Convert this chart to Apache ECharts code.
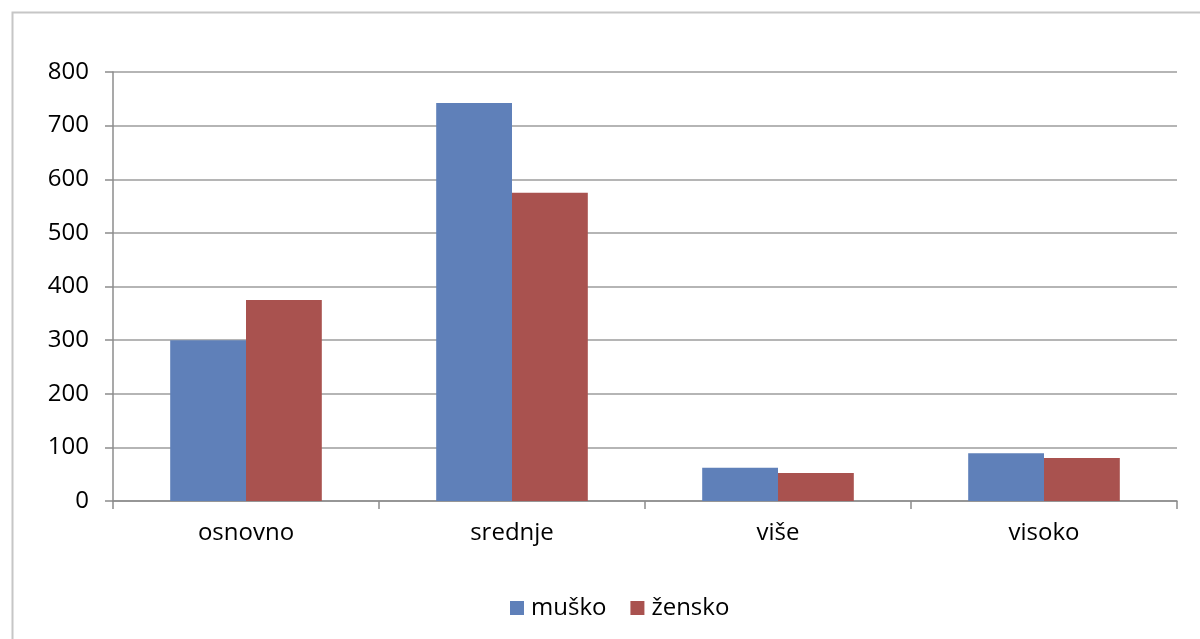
<!DOCTYPE html>
<html>
<head>
<meta charset="utf-8">
<script src="https://cdn.jsdelivr.net/npm/echarts@6/dist/echarts.min.js"></script>
<style>
html,body{margin:0;padding:0;background:#fff;}
#chart{width:1200px;height:639px;}
</style>
</head>
<body>
<div id="chart"></div>
<script>
const categories = ['osnovno', 'srednje', 'više', 'visoko'];
const musko = [300, 742, 62, 89];
const zensko = [375, 575, 52, 80];
const seriesNames = ['muško', 'žensko'];
const yTicks = [0, 100, 200, 300, 400, 500, 600, 700, 800];

const FONT = '"Open Sans", "Liberation Sans", sans-serif';
const chart = echarts.init(document.getElementById('chart'), null, {renderer: 'canvas'});
chart.setOption({
  animation: false,
  backgroundColor: '#fff',
  graphic: [{
    type: 'rect', left: 10, top: 10, silent: true,
    shape: {width: 1220, height: 700},
    style: {fill: 'none', stroke: '#C6C6C6', lineWidth: 2}
  }],
  grid: {left: 113, right: 23, top: 72, bottom: 138, containLabel: false},
  legend: {
    data: seriesNames, top: 591, left: 505,
    icon: 'rect', itemWidth: 14, itemHeight: 14, itemGap: 24, itemStyle: {borderWidth: 0},
    textStyle: {fontFamily: FONT, fontSize: 24, color: '#000', padding: [0, 0, 0, 2]}
  },
  xAxis: {
    type: 'category', data: categories,
    axisLine: {lineStyle: {color: '#8C8C8C', width: 1.5}},
    axisTick: {show: true, length: 8, lineStyle: {color: '#8C8C8C', width: 1.5}},
    axisLabel: {fontFamily: FONT, fontSize: 24, color: '#000', margin: 20}
  },
  yAxis: {
    type: 'value', min: yTicks[0], max: yTicks[yTicks.length - 1], interval: 100,
    axisLine: {show: true, lineStyle: {color: '#8C8C8C', width: 1.5}},
    axisTick: {show: true, length: 8, lineStyle: {color: '#8C8C8C', width: 1.5}},
    axisLabel: {fontFamily: FONT, fontSize: 24, color: '#000', margin: 24},
    splitLine: {lineStyle: {color: '#9C9C9C', width: 1.5}}
  },
  series: [
    {name: seriesNames[0], type: 'bar', data: musko, barGap: '0%', barCategoryGap: '43%',
     itemStyle: {color: '#5F80B9'}},
    {name: seriesNames[1], type: 'bar', data: zensko, barGap: '0%', barCategoryGap: '43%',
     itemStyle: {color: '#A9524F'}}
  ]
});
</script>
</body>
</html>
